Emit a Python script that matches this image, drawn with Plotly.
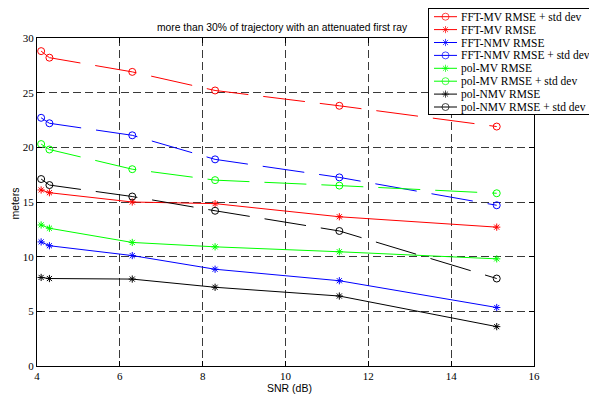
import plotly.graph_objects as go

# ---------------- data ----------------
snr = [4.1, 4.3, 6.3, 8.3, 11.3, 15.1]

fft_mv_std = [28.8, 28.2, 26.9, 25.2, 23.8, 21.9]
fft_mv = [16.1, 15.85, 15.0, 14.85, 13.65, 12.7]
fft_nmv = [11.35, 11.0, 10.1, 8.85, 7.8, 5.35]
fft_nmv_std = [22.7, 22.2, 21.1, 18.9, 17.25, 14.7]
pol_mv = [12.9, 12.6, 11.3, 10.9, 10.45, 9.8]
pol_mv_std = [20.3, 19.8, 18.0, 17.0, 16.5, 15.8]
pol_nmv = [8.1, 8.0, 7.95, 7.2, 6.4, 3.6]
pol_nmv_std = [17.1, 16.55, 15.5, 14.2, 12.35, 8.0]

names = ["FFT-MV RMSE + std dev", "FFT-MV RMSE", "FFT-NMV RMSE",
         "FFT-NMV RMSE + std dev", "pol-MV RMSE", "pol-MV RMSE + std dev",
         "pol-NMV RMSE", "pol-NMV RMSE + std dev"]
series = [fft_mv_std, fft_mv, fft_nmv, fft_nmv_std, pol_mv, pol_mv_std,
          pol_nmv, pol_nmv_std]
colors = ["#ff0000", "#ff0000", "#0000ff", "#0000ff", "#00ff00", "#00ff00",
          "#000000", "#000000"]
is_std = [True, False, False, True, False, True, False, True]

x_ticks = [4, 6, 8, 10, 12, 14, 16]
y_ticks = [0, 5, 10, 15, 20, 25, 30]

title = "more than 30% of trajectory with an attenuated first ray"

# ---------------- layout geometry ----------------
W, H = 589, 396
ML, MR, MT, MB = 37, 0, 0, 30
PW, PH = W - ML - MR, H - MT - MB
plot_left, plot_right, plot_top, plot_bottom = 37, 534, 38, 366


def px(x):
    return (x - ML) / PW


def py(y):
    return (H - MB - y) / PH


leg_left, leg_top, leg_bottom = 429, 9, 114
leg_first, leg_step = 16.7, 12.9

SERIF = "Liberation Serif, Times New Roman, serif"
SANS = "Liberation Sans, Arial, Helvetica, sans-serif"

fig = go.Figure()


def style(std, color):
    return dict(
        line=dict(color=color, width=1, dash="42px,15px" if std else "solid"),
        marker=dict(symbol="circle-open" if std else "asterisk-open",
                    size=7 if std else 6, color=color,
                    line=dict(color=color, width=1)),
    )


for name, vals, col, std in zip(names, series, colors, is_std):
    st = style(std, col)
    fig.add_trace(go.Scatter(x=snr, y=vals, name=name, mode="lines+markers",
                             line=st["line"], marker=st["marker"],
                             showlegend=False, xaxis="x", yaxis="y"))

# ---------------- custom legend (overlay subplot) ----------------
for k, (name, col, std) in enumerate(zip(names, colors, is_std)):
    st = style(std, col)
    mk = dict(st["marker"])
    mk["size"] = [0, st["marker"]["size"], 0]
    fig.add_trace(go.Scatter(x=[5, 16.5, 28], y=[k, k, k], mode="lines+markers",
                             line=st["line"], marker=mk, showlegend=False,
                             hoverinfo="skip", xaxis="x2", yaxis="y2"))
    fig.add_annotation(x=30, y=k, xref="x2", yref="y2", text=name,
                       showarrow=False, xanchor="left", yanchor="middle",
                       font=dict(family=SERIF, size=11.5, color="black"))

n = len(names)
leg_y_top = -(leg_first - leg_top) / leg_step
leg_y_bot = (n - 1) + (leg_bottom - (leg_first + (n - 1) * leg_step)) / leg_step

grid = dict(showgrid=True, gridcolor="#3a3a3a", gridwidth=1, griddash="8px,4px")
axis_common = dict(showline=True, linecolor="black", linewidth=1, mirror="ticks",
                   ticks="inside", ticklen=5, tickcolor="black", zeroline=False,
                   tickfont=dict(family=SERIF, size=11, color="black"),
                   automargin=False)

fig.update_layout(
    width=W, height=H,
    margin=dict(l=ML, r=MR, t=MT, b=MB, pad=0),
    paper_bgcolor="white", plot_bgcolor="white",
    showlegend=False,
    xaxis=dict(domain=[0, px(plot_right)], range=[4, 16], tickvals=x_ticks,
               ticktext=[str(v) for v in x_ticks], anchor="y", **grid, **axis_common),
    yaxis=dict(domain=[0, py(plot_top)], range=[0, 30], tickvals=y_ticks,
               ticktext=[str(v) for v in y_ticks], anchor="x", **grid, **axis_common),
    xaxis2=dict(domain=[px(leg_left), 1], range=[0, W - leg_left], anchor="y2",
                showgrid=False, zeroline=False, showticklabels=False, ticks="",
                showline=True, linecolor="black", linewidth=1, mirror=True,
                fixedrange=True),
    yaxis2=dict(domain=[py(leg_bottom), py(leg_top)], range=[leg_y_bot, leg_y_top],
                anchor="x2", showgrid=False, zeroline=False, showticklabels=False,
                ticks="", showline=True, linecolor="black", linewidth=1,
                mirror=True, fixedrange=True),
    annotations=list(fig.layout.annotations) + [
        dict(text=title, x=px(282), y=py(28), xref="paper", yref="paper",
             showarrow=False, xanchor="center", yanchor="middle",
             font=dict(family=SANS, size=10.3, color="black")),
        dict(text="SNR (dB)", x=px(289), y=py(388), xref="paper", yref="paper",
             showarrow=False, xanchor="center", yanchor="middle",
             font=dict(family=SANS, size=10.5, color="black")),
        dict(text="meters", x=px(14), y=py(203.5), xref="paper", yref="paper",
             showarrow=False, xanchor="center", yanchor="middle", textangle=-90,
             font=dict(family=SANS, size=10.5, color="black")),
    ],
)

fig.write_html("out.html")
